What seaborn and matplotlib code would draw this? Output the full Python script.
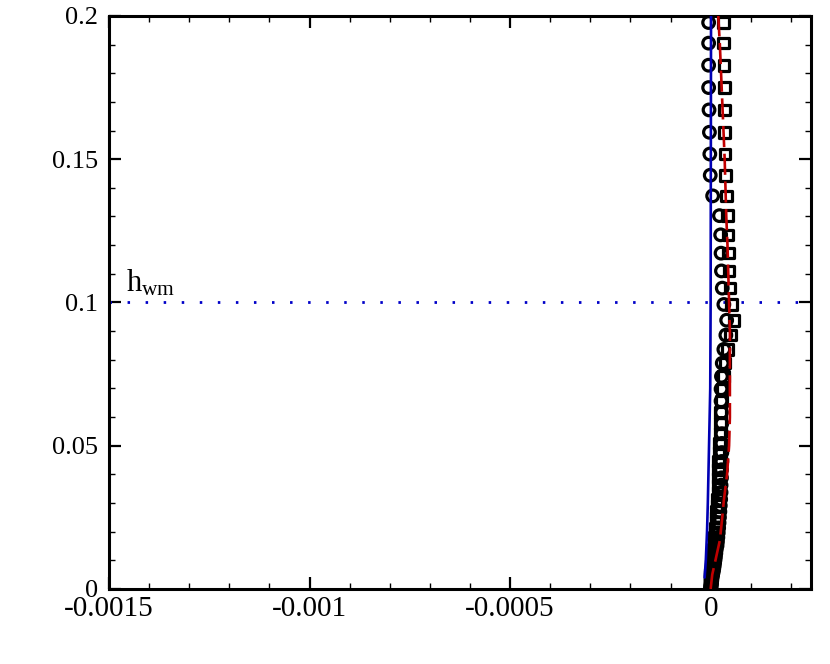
import matplotlib
matplotlib.use("Agg")
import matplotlib.pyplot as plt
from matplotlib.ticker import FixedLocator, MultipleLocator, FixedFormatter
import seaborn as sns
import pandas as pd

# ---------------- data ----------------
y_pts = [0.1977, 0.1905, 0.1828, 0.1750, 0.1672, 0.1594, 0.1518, 0.1444, 0.1372, 0.1303,
         0.1236, 0.1172, 0.1110, 0.1050, 0.0993, 0.0938, 0.0886, 0.0836, 0.0788, 0.0742,
         0.0698, 0.0656, 0.0616, 0.0578, 0.0542, 0.0508, 0.0476, 0.0445, 0.0416, 0.0388,
         0.0362, 0.0337, 0.0313, 0.0291, 0.0270, 0.0250, 0.0231, 0.0213, 0.0196, 0.0180,
         0.0165, 0.0151, 0.0138, 0.0125, 0.0113, 0.0102, 0.0092, 0.0082, 0.0073, 0.0065,
         0.0057, 0.0050, 0.0043, 0.0037, 0.0031, 0.0025, 0.0020, 0.0015, 0.0010, 0.0005, 0.0]

circle_x = [-0.5e-5, -0.5e-5, -0.5e-5, -0.5e-5, -0.4e-5, -0.3e-5, -0.2e-5, -0.1e-5, 0.5e-5, 2.2e-5,
            2.5e-5, 2.6e-5, 2.7e-5, 2.9e-5, 3.3e-5, 4.0e-5, 3.8e-5, 3.3e-5, 2.9e-5, 2.7e-5,
            2.6e-5, 2.6e-5, 2.7e-5, 2.8e-5, 2.8e-5, 2.8e-5, 2.8e-5, 2.8e-5, 2.7e-5, 2.7e-5,
            2.6e-5, 2.6e-5, 2.5e-5, 2.4e-5, 2.3e-5, 2.2e-5, 2.1e-5, 2.0e-5, 1.9e-5, 1.8e-5,
            1.7e-5, 1.6e-5, 1.4e-5, 1.3e-5, 1.2e-5, 1.1e-5, 1.0e-5, 0.9e-5, 0.8e-5, 0.7e-5,
            0.6e-5, 0.5e-5, 0.4e-5, 0.3e-5, 0.3e-5, 0.2e-5, 0.2e-5, 0.1e-5, 0.1e-5, 0.0, 0.0]

square_x = [3.2e-5, 3.2e-5, 3.3e-5, 3.4e-5, 3.5e-5, 3.5e-5, 3.6e-5, 3.7e-5, 3.9e-5, 4.2e-5,
            4.3e-5, 4.4e-5, 4.6e-5, 4.8e-5, 5.2e-5, 5.8e-5, 5.0e-5, 4.2e-5, 3.6e-5, 3.2e-5,
            2.9e-5, 2.7e-5, 2.5e-5, 2.4e-5, 2.3e-5, 2.2e-5, 2.1e-5, 2.0e-5, 2.0e-5, 1.9e-5,
            1.8e-5, 1.8e-5, 1.7e-5, 1.6e-5, 1.5e-5, 1.4e-5, 1.3e-5, 1.2e-5, 1.1e-5, 1.0e-5,
            0.9e-5, 0.8e-5, 0.7e-5, 0.6e-5, 0.5e-5, 0.4e-5, 0.3e-5, 0.2e-5, 0.2e-5, 0.1e-5,
            0.1e-5, 0.0, 0.0, 0.0, -0.1e-5, -0.1e-5, -0.1e-5, -0.1e-5, 0.0, 0.0, 0.0]

blue_y = [0.004, 0.01, 0.02, 0.03, 0.05, 0.07, 0.1, 0.15, 0.2]
blue_x = [-1.5e-5, -1.2e-5, -0.9e-5, -0.7e-5, -0.4e-5, -0.1e-5, 0.0, 0.05e-5, 0.1e-5]

red_y = [0.0, 0.005, 0.01, 0.017, 0.025, 0.031, 0.04, 0.05, 0.06, 0.07, 0.08, 0.09,
         0.1, 0.11, 0.12, 0.13, 0.14, 0.15, 0.16, 0.17, 0.18, 0.19, 0.2]
red_x = [0.0, 0.4e-5, 1.2e-5, 2.3e-5, 2.9e-5, 3.3e-5, 4.1e-5, 4.6e-5, 4.8e-5, 4.8e-5, 4.8e-5, 4.8e-5,
         4.6e-5, 4.4e-5, 4.2e-5, 3.9e-5, 3.7e-5, 3.5e-5, 3.2e-5, 2.9e-5, 2.6e-5, 2.3e-5, 1.9e-5]

h_wm = 0.1
x_ticks = [-0.0015, -0.001, -0.0005, 0.0]
x_tick_labels = ["-0.0015", "-0.001", "-0.0005", "0"]
y_ticks = [0.0, 0.05, 0.1, 0.15, 0.2]
y_tick_labels = ["0", "0.05", "0.1", "0.15", "0.2"]
x_lim = (-0.0015, 0.00025)
y_lim = (0.0, 0.2)

# ---------------- styling ----------------
sns.set_style("ticks")
plt.rcParams["font.family"] = ["Liberation Serif", "DejaVu Serif"]
plt.rcParams["mathtext.fontset"] = "custom"
plt.rcParams["mathtext.rm"] = "Liberation Serif"
plt.rcParams["mathtext.it"] = "Liberation Serif"

fig = plt.figure(figsize=(8.3, 6.64), dpi=100)
ax = fig.add_axes([0.1313, 0.113, 0.8457, 0.863])

df_c = pd.DataFrame({"x": circle_x, "y": y_pts})
df_s = pd.DataFrame({"x": square_x, "y": y_pts})
df_b = pd.DataFrame({"x": blue_x, "y": blue_y})
df_r = pd.DataFrame({"x": red_x, "y": red_y})

sns.scatterplot(data=df_c, x="x", y="y", ax=ax, marker="o", s=70,
                facecolor="none", edgecolor="black", linewidth=2.3, zorder=3)
sns.scatterplot(data=df_s, x="x", y="y", ax=ax, marker="s", s=58,
                facecolor="none", edgecolor="black", linewidth=2.3, zorder=3)

sns.lineplot(data=df_b, x="x", y="y", ax=ax, sort=False, estimator=None,
             color="#0000b4", linewidth=1.9, zorder=4)
sns.lineplot(data=df_r, x="x", y="y", ax=ax, sort=False, estimator=None,
             color="#c00000", linewidth=1.9, dashes=False, zorder=5)
ax.lines[-1].set_linestyle((0, (8, 2.5)))

ax.axhline(h_wm, color="#0000c8", linewidth=2.0, linestyle=(0, (0.9, 5.6)), zorder=2)
ax.text(-0.001458, 0.1037, r"$\mathrm{h_{wm}}$", fontsize=22, va="baseline", ha="left",
        color="black")

ax.set_xlim(*x_lim)
ax.set_ylim(*y_lim)
ax.xaxis.set_major_locator(FixedLocator(x_ticks))
ax.xaxis.set_major_formatter(FixedFormatter(x_tick_labels))
ax.yaxis.set_major_locator(FixedLocator(y_ticks))
ax.yaxis.set_major_formatter(FixedFormatter(y_tick_labels))
ax.xaxis.set_minor_locator(MultipleLocator(0.0001))
ax.yaxis.set_minor_locator(MultipleLocator(0.01))

ax.set_xlabel("")
ax.set_ylabel("")
for sp in ax.spines.values():
    sp.set_visible(True)
    sp.set_linewidth(2.2)
    sp.set_color("black")

ax.tick_params(which="both", direction="in", top=True, right=True, colors="black")
ax.tick_params(which="major", length=8.5, width=1.6)
ax.tick_params(which="minor", length=4.2, width=1.0)
ax.tick_params(axis="x", which="major", labelsize=21, pad=5)
ax.tick_params(axis="y", which="major", labelsize=19, pad=8)

fig.savefig("out.png", dpi=100)
